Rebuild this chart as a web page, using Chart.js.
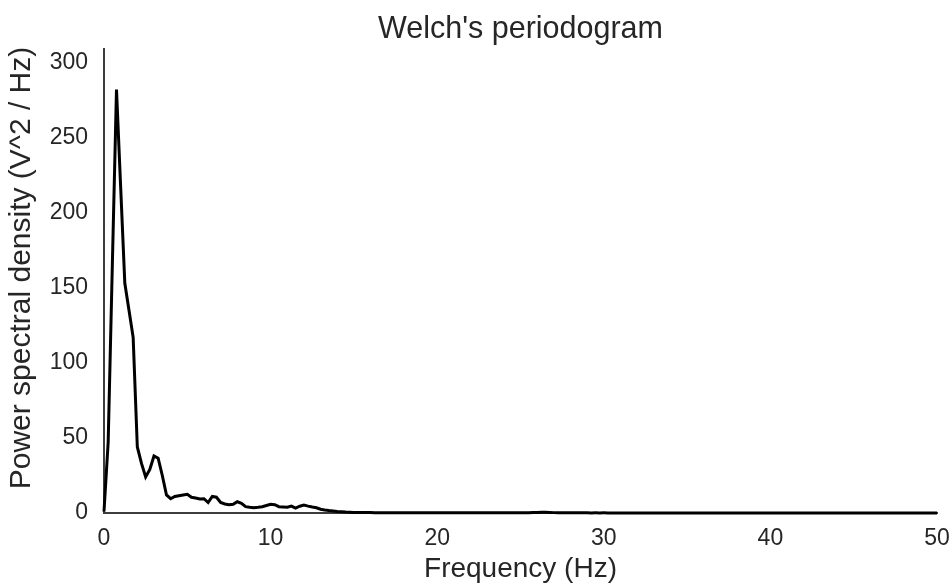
<!DOCTYPE html>
<html>
<head>
<meta charset="utf-8">
<script src="https://cdn.jsdelivr.net/npm/chart.js@4.4.0/dist/chart.umd.min.js"></script>
<style>
  body { margin: 0; background: #fff; }
  #wrap { width: 952px; height: 587px; }
</style>
</head>
<body>
<div id="wrap"><canvas id="psdChart" width="952" height="587"></canvas></div>
<script>
// frequency bins of the Welch estimate (Hz)
const freqs = [
  0, 0.25, 0.5, 0.75, 1, 1.25, 1.5, 1.75,
  2, 2.25, 2.5, 2.75, 3, 3.25, 3.5, 3.75,
  4, 4.25, 4.5, 4.75, 5, 5.25, 5.5, 5.75,
  6, 6.25, 6.5, 6.75, 7, 7.25, 7.5, 7.75,
  8, 8.25, 8.5, 8.75, 9, 9.25, 9.5, 9.75,
  10, 10.25, 10.5, 10.75, 11, 11.25, 11.5, 11.75,
  12, 12.25, 12.5, 12.75, 13, 13.25, 13.5, 13.75,
  14, 14.25, 14.5, 14.75, 15, 15.25, 15.5, 15.75,
  16, 16.25, 16.5, 16.75, 17, 17.25, 17.5, 17.75,
  18, 18.25, 18.5, 18.75, 19, 19.25, 19.5, 19.75,
  20, 20.25, 20.5, 20.75, 21, 21.25, 21.5, 21.75,
  22, 22.25, 22.5, 22.75, 23, 23.25, 23.5, 23.75,
  24, 24.25, 24.5, 24.75, 25, 25.25, 25.5, 25.75,
  26, 26.25, 26.5, 26.75, 27, 27.25, 27.5, 27.75,
  28, 28.25, 28.5, 28.75, 29, 29.25, 29.5, 29.75,
  30, 30.25, 30.5, 30.75, 31, 31.25, 31.5, 31.75,
  32, 32.25, 32.5, 32.75, 33, 33.25, 33.5, 33.75,
  34, 34.25, 34.5, 34.75, 35, 35.25, 35.5, 35.75,
  36, 36.25, 36.5, 36.75, 37, 37.25, 37.5, 37.75,
  38, 38.25, 38.5, 38.75, 39, 39.25, 39.5, 39.75,
  40, 40.25, 40.5, 40.75, 41, 41.25, 41.5, 41.75,
  42, 42.25, 42.5, 42.75, 43, 43.25, 43.5, 43.75,
  44, 44.25, 44.5, 44.75, 45, 45.25, 45.5, 45.75,
  46, 46.25, 46.5, 46.75, 47, 47.25, 47.5, 47.75,
  48, 48.25, 48.5, 48.75, 49, 49.25, 49.5, 49.75,
  50
];

// power spectral density (V^2 / Hz)
const psd = [
  1, 47, 165, 282, 217, 153, 135, 117,
  44, 33, 24, 29, 38, 36.5, 25, 12,
  9.5, 11, 11.5, 12, 12.5, 10.5, 10, 9.3,
  9.5, 7, 11, 10.5, 7, 6, 5.5, 5.8,
  7.5, 6.5, 4.2, 3.8, 3.5, 3.8, 4.2, 5,
  5.8, 5.5, 4.2, 4, 3.8, 4.6, 3.2, 4.5,
  5.3, 4.6, 4, 3.5, 2.5, 2, 1.6, 1.3,
  1.0, 0.8, 0.6, 0.5, 0.4, 0.35, 0.3, 0.28,
  0.25, 0.24, 0.22, 0.2, 0.21, 0.19, 0.18, 0.17,
  0.18, 0.16, 0.15, 0.16, 0.14, 0.15, 0.13, 0.14,
  0.13, 0.12, 0.14, 0.13, 0.12, 0.11, 0.12, 0.11,
  0.12, 0.1, 0.11, 0.12, 0.1, 0.11, 0.1, 0.12,
  0.11, 0.1, 0.12, 0.13, 0.15, 0.18, 0.22, 0.3,
  0.38, 0.45, 0.42, 0.35, 0.25, 0.18, 0.14, 0.12,
  0.1, 0.11, 0.09, 0.1, 0.09, 0.08, 0.09, 0.08,
  0.09, 0.08, 0.07, 0.08, 0.07, 0.08, 0.07, 0.07,
  0.06, 0.07, 0.06, 0.07, 0.06, 0.06, 0.07, 0.06,
  0.05, 0.06, 0.05, 0.06, 0.05, 0.05, 0.06, 0.05,
  0.05, 0.04, 0.05, 0.05, 0.04, 0.05, 0.04, 0.04,
  0.05, 0.04, 0.04, 0.05, 0.04, 0.04, 0.04, 0.04,
  0.03, 0.04, 0.04, 0.03, 0.04, 0.03, 0.04, 0.03,
  0.03, 0.04, 0.03, 0.03, 0.03, 0.04, 0.03, 0.03,
  0.03, 0.02, 0.03, 0.03, 0.02, 0.03, 0.03, 0.02,
  0.03, 0.02, 0.02, 0.03, 0.02, 0.02, 0.02, 0.02,
  0.02, 0.02, 0.02, 0.02, 0.02, 0.02, 0.02, 0.02,
  0.01
];

const xTicks = [0, 10, 20, 30, 40, 50];
const yTicks = [0, 50, 100, 150, 200, 250, 300];
const yTop = 309.3; // 1.1 x peak, as in the original

const textColor = '#262626';
const spineColor = '#3d3d3d';
const fontFamily = '"Liberation Sans", Arial, sans-serif';
const yLabel = 'Power spectral density (V^2 / Hz)';

const points = freqs.map((f, i) => ({ x: f, y: psd[i] }));

// y label drawn by hand so it can sit where matplotlib put it
const yLabelPlugin = {
  id: 'yLabel',
  afterDraw(chart) {
    const c = chart.ctx;
    c.save();
    c.translate(22, 268);
    c.rotate(-Math.PI / 2);
    c.font = '30px ' + fontFamily;
    c.fillStyle = textColor;
    c.textAlign = 'center';
    c.textBaseline = 'middle';
    c.fillText(yLabel, 0, 0);
    c.restore();
  }
};

const ctx = document.getElementById('psdChart').getContext('2d');
const chart = new Chart(ctx, {
  type: 'line',
  data: {
    datasets: [{
      data: points,
      borderColor: '#000',
      borderWidth: 3,
      pointRadius: 0,
      tension: 0,
      fill: false,
      clip: false
    }]
  },
  options: {
    responsive: false,
    animation: false,
    layout: { padding: { left: 0, right: 15, top: 0, bottom: 0 } },
    plugins: {
      legend: { display: false },
      tooltip: { enabled: false },
      title: {
        display: true,
        fullSize: false,
        text: "Welch's periodogram",
        color: textColor,
        font: { family: fontFamily, size: 30.5, weight: 'normal' },
        padding: { top: 11, bottom: 1 }
      }
    },
    scales: {
      x: {
        type: 'linear',
        min: 0,
        max: 50,
        afterBuildTicks: s => { s.ticks = xTicks.map(v => ({ value: v })); },
        afterFit: s => { s.height = 74; s.paddingLeft = 0; s.paddingRight = 0; },
        grid: { display: false, drawTicks: false },
        border: { display: true, color: spineColor, width: 2 },
        ticks: {
          color: textColor,
          padding: 12,
          maxRotation: 0,
          font: { family: fontFamily, size: 23 }
        },
        title: {
          display: true,
          text: 'Frequency (Hz)',
          color: textColor,
          font: { family: fontFamily, size: 28 },
          padding: { top: 0, bottom: 1 }
        }
      },
      y: {
        min: 0,
        max: yTop,
        afterBuildTicks: s => { s.ticks = yTicks.map(v => ({ value: v })); },
        afterFit: s => { s.width = 104; },
        grid: { display: false, drawTicks: false },
        border: { display: true, color: spineColor, width: 2 },
        ticks: {
          color: textColor,
          padding: 16,
          font: { family: fontFamily, size: 23 }
        }
      }
    }
  },
  plugins: [yLabelPlugin]
});
</script>
</body>
</html>
